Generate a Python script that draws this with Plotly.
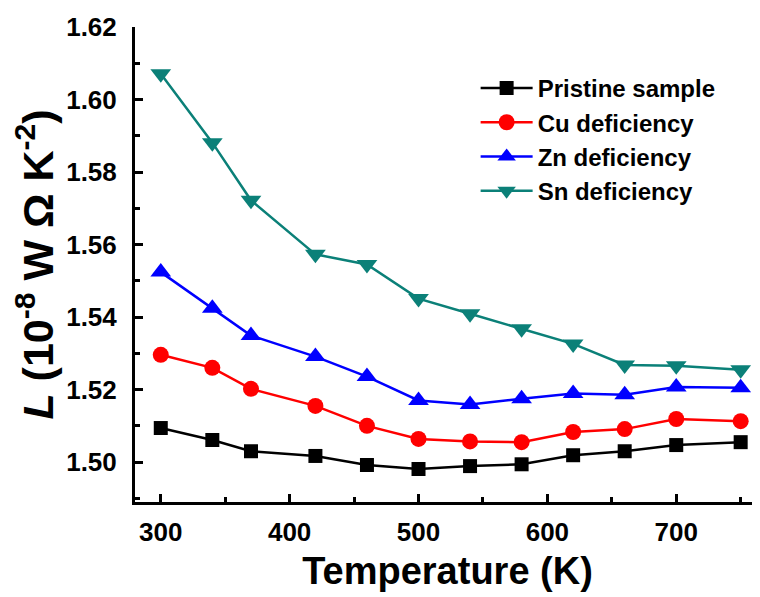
import plotly.graph_objects as go

temperature = [300, 340, 370, 420, 460, 500, 540, 580, 620, 660, 700, 750]
pristine = [1.5094, 1.5061, 1.5030, 1.5017, 1.4992, 1.4981, 1.4989, 1.4994, 1.5019, 1.5030, 1.5047, 1.5055]
cu_def = [1.5296, 1.5260, 1.5202, 1.5155, 1.5100, 1.5064, 1.5057, 1.5055, 1.5083, 1.5091, 1.5119, 1.5113]
zn_def = [1.5524, 1.5424, 1.5349, 1.5291, 1.5236, 1.5170, 1.5159, 1.5175, 1.5189, 1.5186, 1.5207, 1.5205]
sn_def = [1.6071, 1.5881, 1.5722, 1.5573, 1.5545, 1.5451, 1.5409, 1.5368, 1.5326, 1.5268, 1.5266, 1.5255]

series_names = ["Pristine sample", "Cu deficiency", "Zn deficiency", "Sn deficiency"]
series_values = [pristine, cu_def, zn_def, sn_def]
colors = ["#000000", "#FF0000", "#0000FF", "#0B8078"]
symbols = ["square", "circle", "triangle-up", "triangle-down"]
sizes = [14, 16, 18, 18]

font_family = "Liberation Sans, Arial, sans-serif"

fig = go.Figure()
for name, vals, c, s, sz in zip(series_names, series_values, colors, symbols, sizes):
    fig.add_trace(go.Scatter(
        x=temperature, y=vals, name=name, mode="lines+markers",
        line=dict(color=c, width=2.5),
        marker=dict(color=c, symbol=s, size=sz, line=dict(width=0)),
    ))

axis_common = dict(
    showline=True, linecolor="black", linewidth=3,
    ticks="inside", ticklen=8, tickwidth=3, tickcolor="black",
    showgrid=False, zeroline=False, mirror=False, automargin=False,
    tickfont=dict(family=font_family, size=26, color="black", weight="bold"),
)

fig.update_xaxes(
    range=[280, 765], tickvals=[300, 400, 500, 600, 700],
    minor=dict(ticks="inside", ticklen=5, tickwidth=3, tickcolor="black", dtick=50, tick0=300),
    title=dict(text="<b>Temperature (K)</b>", font=dict(family=font_family, size=38, color="black"), standoff=12),
    ticklabelstandoff=5,
    **axis_common,
)
fig.update_yaxes(
    range=[1.489, 1.62], tickvals=[1.50, 1.52, 1.54, 1.56, 1.58, 1.60, 1.62],
    tickformat=".2f",
    minor=dict(ticks="inside", ticklen=5, tickwidth=3, tickcolor="black", dtick=0.01, tick0=1.49),
    title=dict(text="<b><i>L</i> (10<sup>-8</sup> W Ω K<sup>-2</sup>)</b>", font=dict(family=font_family, size=43, color="black"), standoff=2),
    ticklabelstandoff=10,
    **axis_common,
)

fig.update_layout(
    width=760, height=597,
    margin=dict(l=127, r=8, t=19, b=103),
    plot_bgcolor="white", paper_bgcolor="white",
    showlegend=True,
    legend=dict(
        x=0.545, y=0.918, xanchor="left", yanchor="top",
        font=dict(family=font_family, size=24, color="black", weight="bold"),
        bgcolor="rgba(0,0,0,0)", tracegroupgap=0, itemwidth=52,
    ),
)

fig.write_html("out.html")
